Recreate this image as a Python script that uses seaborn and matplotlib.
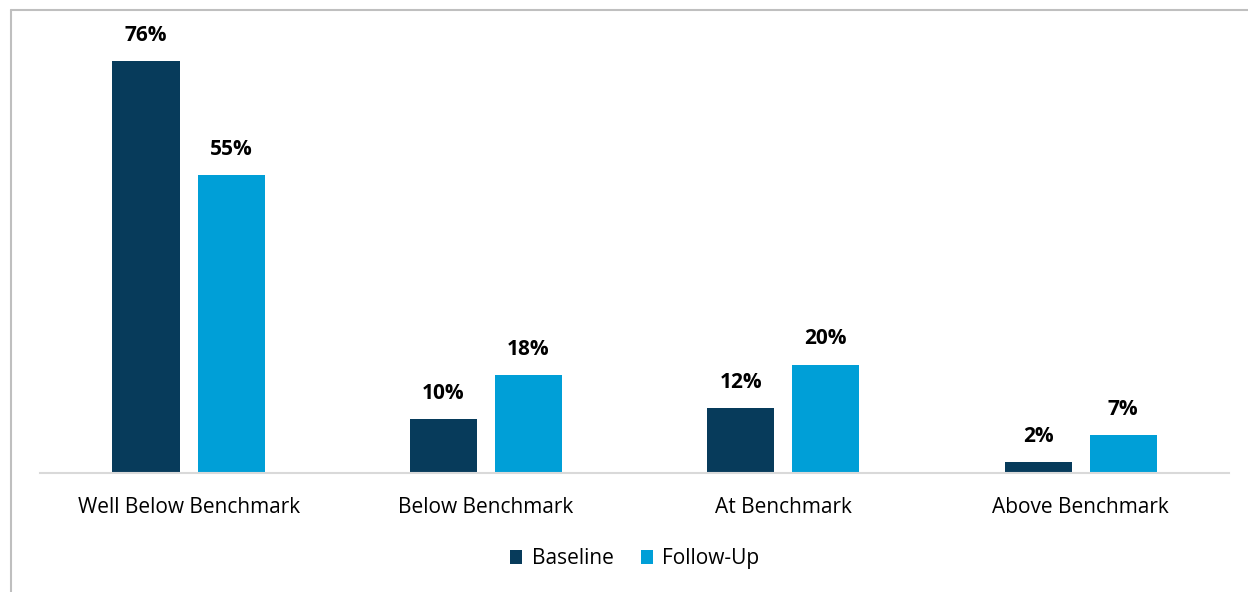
import matplotlib
matplotlib.use("Agg")
import matplotlib.pyplot as plt
import seaborn as sns
import pandas as pd
from matplotlib.lines import Line2D

categories = ["Well Below Benchmark", "Below Benchmark", "At Benchmark", "Above Benchmark"]
series = ["Baseline", "Follow-Up"]
baseline = [76, 10, 12, 2]
follow_up = [55, 18, 20, 7]
colors = ["#073B5B", "#009FD7"]

df = pd.DataFrame({
    "category": categories * 2,
    "series": [series[0]] * 4 + [series[1]] * 4,
    "value": baseline + follow_up,
})

sns.set_theme(style="white")
plt.rcParams["font.family"] = ["Open Sans", "DejaVu Sans"]

fig = plt.figure(figsize=(12.48, 5.92), dpi=100)
ax = fig.add_axes([0.032, 0.201, 0.953, 0.7323])

sns.barplot(data=df, x="category", y="value", hue="series", order=categories,
            hue_order=series, palette=colors, width=0.572, gap=0.21,
            saturation=1, ax=ax, edgecolor="none")

ax.set_ylim(0, 80)
ax.set_xlim(-0.5, 3.5)
ax.set_xlabel("")
ax.set_ylabel("")
ax.set_yticks([])
for s in ["top", "right", "left"]:
    ax.spines[s].set_visible(False)
ax.spines["bottom"].set_color("#D9D9D9")
ax.spines["bottom"].set_linewidth(1.5)
ax.tick_params(axis="x", length=0, pad=17, labelsize=15, colors="#000000")

for cont in ax.containers:
    for bar in cont:
        h = bar.get_height()
        ax.annotate(f"{h:.0f}%", (bar.get_x() + bar.get_width() / 2, h),
                    xytext=(0, 11), textcoords="offset points",
                    ha="center", va="bottom", fontsize=15, fontweight="bold",
                    color="#000000")

leg = ax.legend(loc="center", bbox_to_anchor=(0.5, -0.198), ncol=2, frameon=False,
                fontsize=15, handlelength=0.6, handleheight=0.6, handletextpad=0.45,
                columnspacing=1.3)
for t in leg.get_texts():
    t.set_color("#000000")

fig.add_artist(Line2D([10.5 / 1248, 10.5 / 1248], [0, 1 - 9.5 / 592],
                      transform=fig.transFigure, color="#BFBFBF", lw=1.5))
fig.add_artist(Line2D([10.5 / 1248, 1], [1 - 9.5 / 592, 1 - 9.5 / 592],
                      transform=fig.transFigure, color="#BFBFBF", lw=1.5))

fig.savefig("out.png", dpi=100, facecolor="white")
